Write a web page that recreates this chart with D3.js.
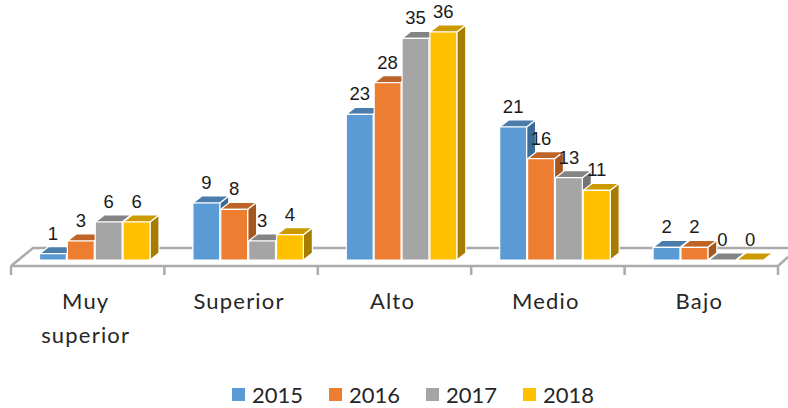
<!DOCTYPE html>
<html>
<body>
    <style>
        body, html {
            margin: 0;
            padding: 0;
            background: #fff;
        }
        svg {
            display: block;
        }
    </style>

    <svg width="788" height="408"></svg>

    <script src="https://d3js.org/d3.v7.min.js"></script>
    <script>
        var categories = ["Muy superior", "Superior", "Alto", "Medio", "Bajo"];
        var years = ["2015", "2016", "2017", "2018"];
        var values2015 = [1, 9, 23, 21, 2];
        var values2016 = [3, 8, 28, 16, 2];
        var values2017 = [6, 3, 35, 13, 0];
        var values2018 = [6, 4, 36, 11, 0];
        var series = [values2015, values2016, values2017, values2018];

        var frontColors = ["#5B9BD5", "#ED7D31", "#A5A5A5", "#FFC000"];
        var topColors = ["#4A7DAC", "#BE6427", "#848484", "#CC9A00"];
        var sideColors = ["#3B6A94", "#A6561F", "#737373", "#A67D00"];

        var depthX = 9;
        var depthY = 7;
        var floorColor = "#ABABAB";
        var labelFont = "Liberation Sans";
        var textFont = "Lato";

        var svg = d3.select("svg");

        var x0 = d3.scaleBand().domain(categories).range([11, 778]);
        var x1 = d3.scaleBand().domain(years).range([28, 139.5]);
        var y = d3.scaleLinear().domain([0, 36]).range([260, 32]);
        var legendX = d3.scalePoint().domain(years).range([232, 523]);

        var line = d3.line();

        // FLOOR
        var floorY = y(0) + 6;
        var backY = y(0) - 12;
        var floor = svg.append("g")
            .attr("fill", "none")
            .attr("stroke", floorColor)
            .attr("stroke-width", 2.5);

        floor.append("path").attr("d", line([[11, floorY], [33, backY], [788, backY]]));
        floor.append("path").attr("d", line([[11, floorY], [778, floorY], [788, floorY - 9]]));

        var ticks = categories.map(function (c) { return x0(c); }).concat([778]);
        floor.selectAll("line").data(ticks).join("line")
            .attr("x1", function (d) { return d; })
            .attr("x2", function (d) { return d; })
            .attr("y1", floorY)
            .attr("y2", floorY + 9);

        // BARS
        var bars = [];
        categories.forEach(function (c, i) {
            years.forEach(function (yr, s) {
                bars.push({ cat: c, year: yr, s: s, value: series[s][i] });
            });
        });

        var bar = svg.selectAll("g.bar").data(bars).join("g").attr("class", "bar")
            .attr("stroke", "#fff")
            .attr("stroke-width", 1.2)
            .attr("stroke-linejoin", "round");

        function left(d) { return x0(d.cat) + x1(d.year) + 0.5; }
        function right(d) { return left(d) + x1.bandwidth() - 1; }

        // side goes first so the next bar in the row covers it
        bar.filter(function (d) { return d.value > 0; }).append("path")
            .attr("fill", function (d) { return sideColors[d.s]; })
            .attr("d", function (d) {
                var r = right(d);
                return line([[r, y(d.value)], [r + depthX, y(d.value) - depthY], [r + depthX, y(0) - depthY], [r, y(0)]]) + "Z";
            });

        bar.append("path")
            .attr("fill", function (d) { return topColors[d.s]; })
            .attr("d", function (d) {
                var l = left(d), r = right(d), t = y(d.value);
                return line([[l, t], [l + depthX, t - depthY], [r + depthX, t - depthY], [r, t]]) + "Z";
            });

        bar.filter(function (d) { return d.value > 0; }).append("rect")
            .attr("fill", function (d) { return frontColors[d.s]; })
            .attr("x", left)
            .attr("y", function (d) { return y(d.value); })
            .attr("width", function (d) { return right(d) - left(d); })
            .attr("height", function (d) { return y(0) - y(d.value); });

        // VALUE LABELS
        svg.selectAll("text.value").data(bars).join("text").attr("class", "value")
            .attr("x", function (d) { return (left(d) + right(d)) / 2; })
            .attr("y", function (d) { return y(d.value) - 14; })
            .attr("text-anchor", "middle")
            .attr("font-family", labelFont)
            .attr("font-size", 18.5)
            .attr("fill", "#1a1a1a")
            .text(function (d) { return d.value; });

        // CATEGORY LABELS
        var catLabel = svg.selectAll("text.cat").data(categories).join("text").attr("class", "cat")
            .attr("text-anchor", "middle")
            .attr("font-family", textFont)
            .attr("font-size", 22)
            .attr("letter-spacing", 1.2)
            .attr("fill", "#262626");

        catLabel.selectAll("tspan")
            .data(function (c) {
                return c.split(" ").map(function (w, k) { return { word: w, line: k, cat: c }; });
            })
            .join("tspan")
            .attr("x", function (d) { return x0(d.cat) + x0.bandwidth() / 2 - 2; })
            .attr("y", function (d) { return 309 + d.line * 34; })
            .text(function (d) { return d.word; });

        // LEGEND
        var legend = svg.selectAll("g.legend").data(years).join("g").attr("class", "legend");

        legend.append("rect")
            .attr("x", function (d) { return legendX(d); })
            .attr("y", 388)
            .attr("width", 13)
            .attr("height", 13)
            .attr("fill", function (d, i) { return frontColors[i]; });

        legend.append("text")
            .attr("x", function (d) { return legendX(d) + 20; })
            .attr("y", 403)
            .attr("font-family", textFont)
            .attr("font-size", 22)
            .attr("fill", "#262626")
            .text(function (d) { return d; });
    </script>
</body>
</html>
